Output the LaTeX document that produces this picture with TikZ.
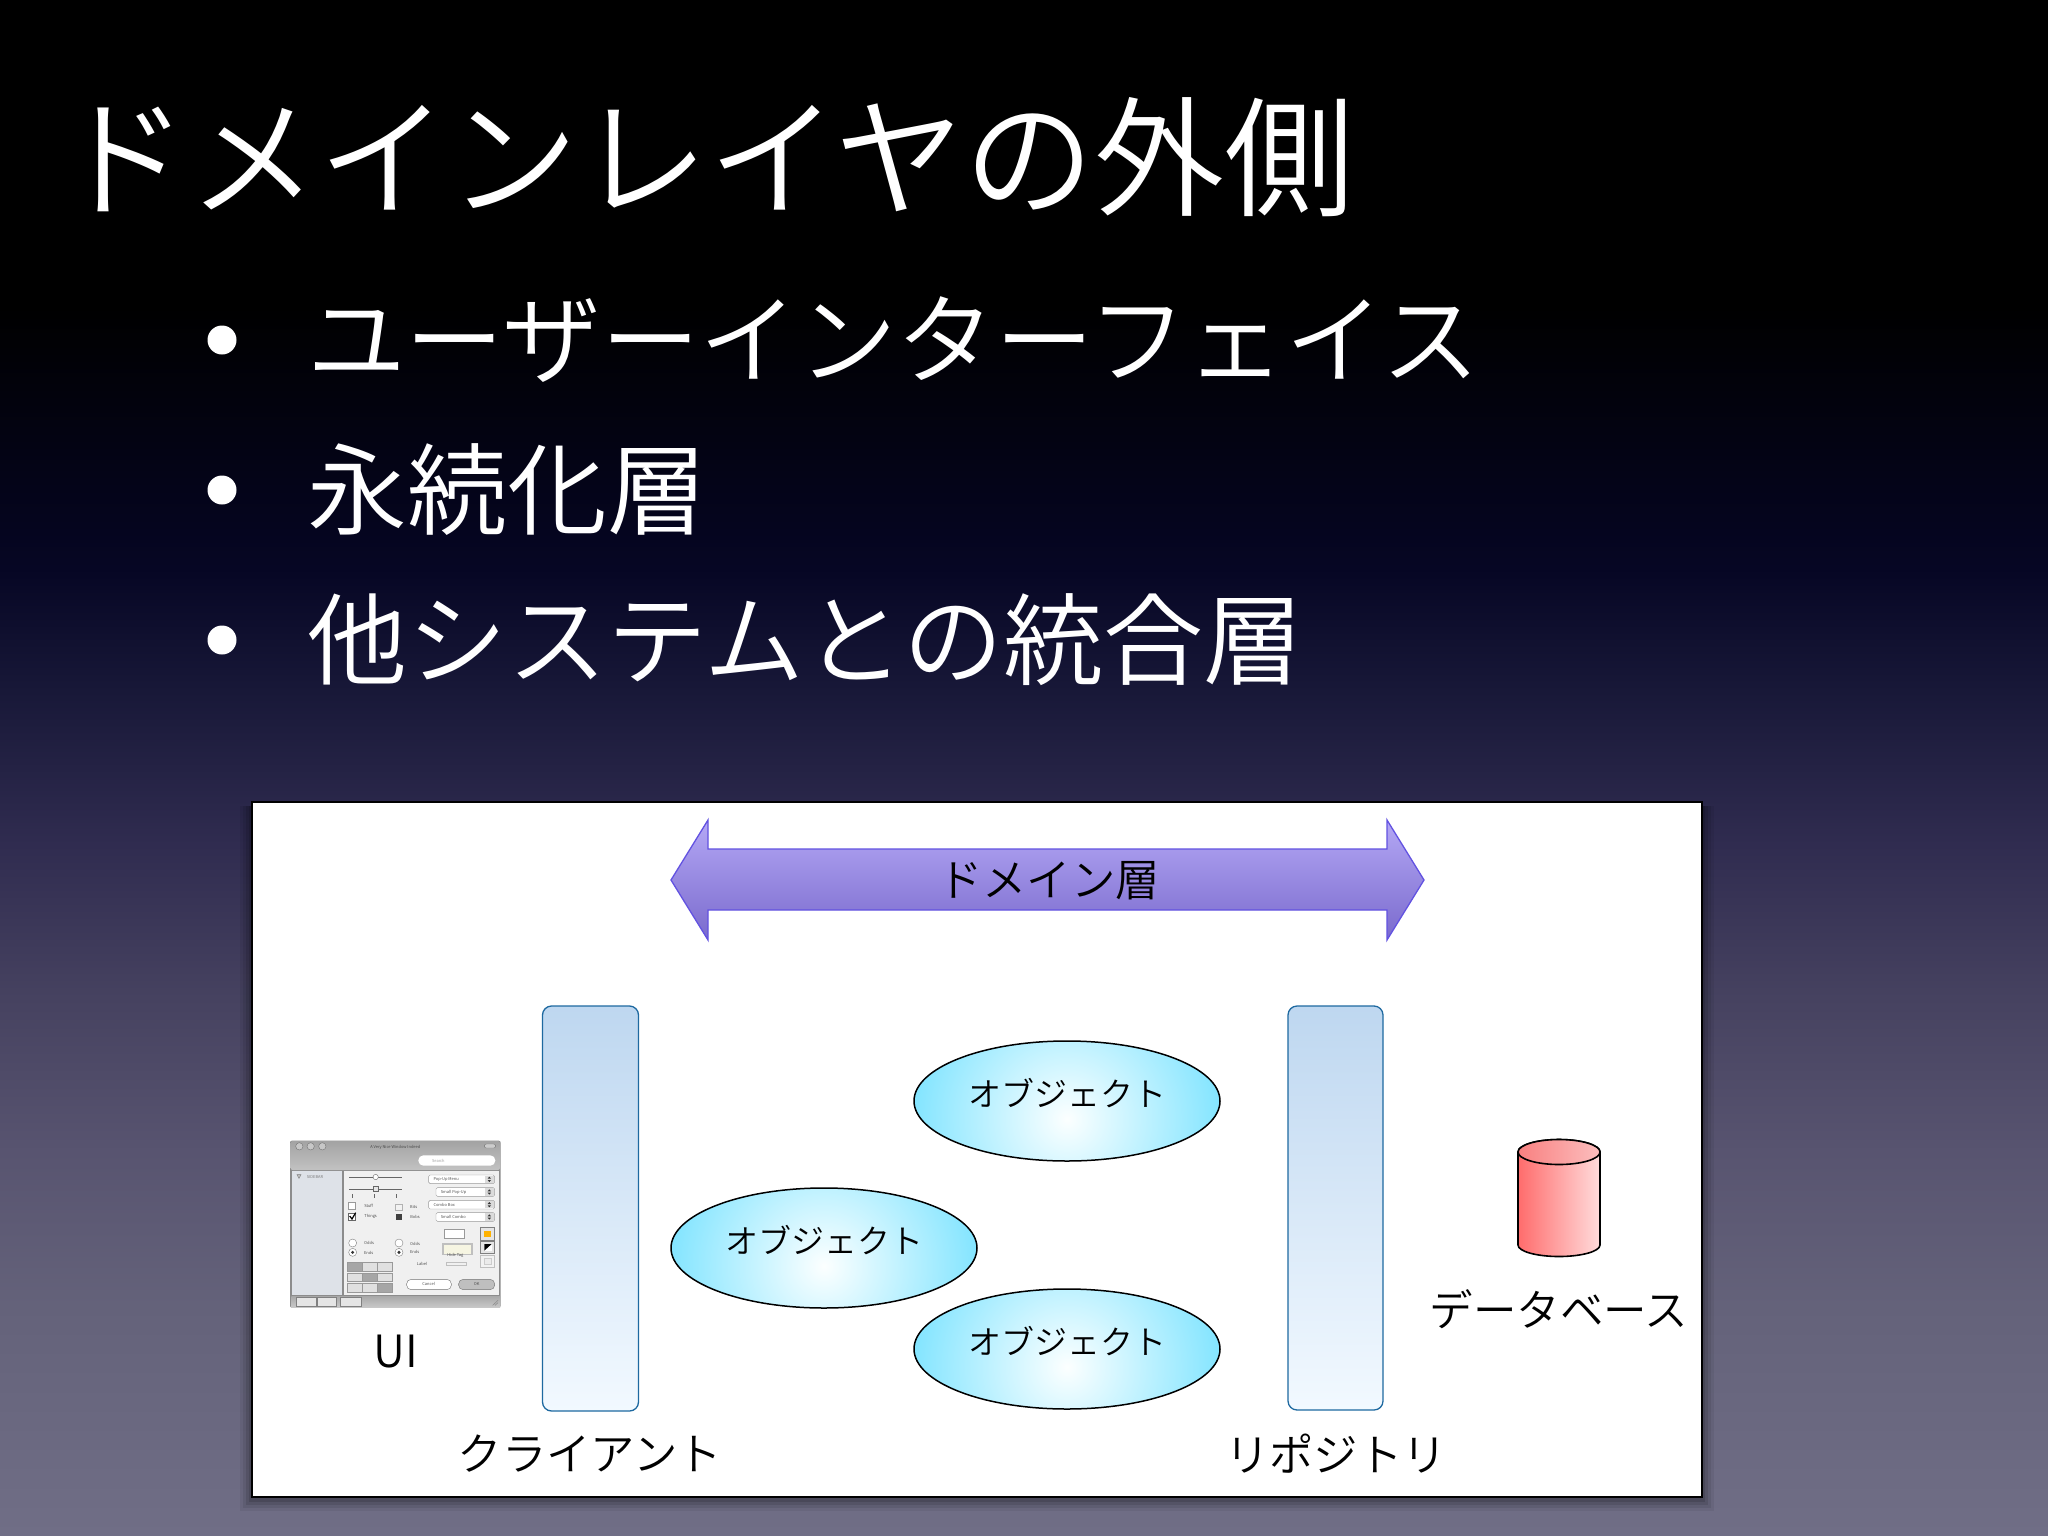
\documentclass[tikz,border=0pt]{standalone}
\usepackage{fontspec}
\setmainfont{Noto Sans CJK JP DemiLight}
\usetikzlibrary{shapes.geometric}
\definecolor{bgA}{RGB}{0,0,0}
\definecolor{bgB}{RGB}{6,6,36}
\definecolor{bgC}{RGB}{24,24,56}
\definecolor{bgD}{RGB}{48,44,80}
\definecolor{bgE}{RGB}{70,66,96}
\definecolor{bgF}{RGB}{88,84,112}
\definecolor{bgG}{RGB}{100,98,122}
\definecolor{bgH}{RGB}{112,110,134}
\pgfdeclareverticalshading{slidebg}{100bp}{
 color(0bp)=(bgH); color(25bp)=(bgH); color(32.5bp)=(bgG); color(37.5bp)=(bgF); color(42.5bp)=(bgE);
 color(47.5bp)=(bgD); color(52.5bp)=(bgC); color(56.5bp)=(bgB); color(65bp)=(bgA); color(100bp)=(bgA)}
\definecolor{elC}{RGB}{252,255,255}
\definecolor{elE}{RGB}{128,228,255}
\definecolor{arrowtop}{RGB}{180,168,245}
\definecolor{arrowbot}{RGB}{122,106,205}
\definecolor{arrowline}{RGB}{98,82,225}
\definecolor{coltop}{RGB}{190,215,240}
\definecolor{colbot}{RGB}{242,249,255}
\definecolor{colline}{RGB}{30,105,160}
\definecolor{cylL}{RGB}{255,108,108}
\definecolor{cylR}{RGB}{255,220,220}
\definecolor{cytL}{RGB}{248,128,128}
\definecolor{cytR}{RGB}{252,190,190}
\definecolor{uiS}{RGB}{222,226,232}
\tikzset{
 heading/.style={anchor=west,text=white,font=\fontsize{130}{130}\selectfont,inner sep=0pt},
 bulletitem/.style={anchor=west,text=white,font=\fontsize{100}{100}\selectfont,inner sep=0pt},
 bulletdot/.style={circle,fill=white,minimum size=29pt,inner sep=0pt},
 lbl/.style={text=black,font=\fontsize{44.4}{44.4}\selectfont,inner sep=0pt},
 column/.style={draw=colline,line width=1.3pt,rounded corners=9pt,top color=coltop,bottom color=colbot,inner sep=0pt},
 obj/.style={ellipse,draw=black,line width=1.5pt,minimum width=306pt,minimum height=120pt,inner sep=0pt,
  path picture={\shade[inner color=elC,outer color=elE] ([yshift=-18pt]path picture bounding box.center) circle[radius=158pt];}},
 objtxt/.style={text=black,font=\fontsize{33}{33}\selectfont,inner sep=0pt},
 uit/.style={text=black!75,font=\fontsize{4}{4}\selectfont,inner sep=0pt},
}
\begin{document}
\begin{tikzpicture}[x=1pt,y=-1pt]
\useasboundingbox (0,0) rectangle (2048,1536);
\shade[shading=slidebg] (0,0) rectangle (2048,1536);
\node[heading] (title) at (58,157) {ドメインレイヤの外側};
\node[bulletdot] (d1) at (222,340) {};
\node[bulletdot] (d2) at (222,490) {};
\node[bulletdot] (d3) at (222,640) {};
\node[bulletitem,font=\fontsize{98.6}{98.6}\selectfont] (b1) at (307,340) {ユーザーインターフェイス};
\node[bulletitem] (b2) at (307,490) {永続化層};
\node[bulletitem] (b3) at (307,640) {他システムとの統合層};
% panel shadow
\foreach \o/\a in {12/.06,9/.08,6/.1,3/.12}{
 \fill[black,opacity=\a] (252-\o,802+4) rectangle (1702+\o,1497+\o+2);
}
\draw[black,line width=2pt,fill=white] (252,802) rectangle (1702,1497);
% double arrow
\draw[arrowline,line width=1.3pt,top color=arrowtop,bottom color=arrowbot]
 (671,880) -- (708,820) -- (708,849) -- (1387,849) -- (1387,820) -- (1424,880)
 -- (1387,940) -- (1387,910) -- (708,910) -- (708,940) -- cycle;
\node[lbl] (dom) at (1049,881) {ドメイン層};
% columns
\node[column,minimum width=96pt,minimum height=405pt] (client) at (590.5,1208.5) {};
\node[column,minimum width=95pt,minimum height=404pt] (repo) at (1335.5,1208) {};
\node[lbl] (clientl) at (590,1454) {クライアント};
\node[lbl] (repol) at (1336,1454) {リポジトリ};
% objects
\node[obj] (o1) at (1067,1101) {};
\node[obj] (o2) at (824,1248) {};
\node[obj] (o3) at (1067,1349) {};
\node[objtxt] (t1) at (1067,1093) {オブジェクト};
\node[objtxt] (t2) at (824,1240) {オブジェクト};
\node[objtxt] (t3) at (1067,1341) {オブジェクト};
% database
\draw[black,line width=1.6pt,left color=cylL,right color=cylR]
 (1518,1152) -- (1518,1245) arc[start angle=180,end angle=360,x radius=41,y radius=-11.5] -- (1600,1152)
 arc[start angle=0,end angle=180,x radius=41,y radius=-12.5] -- cycle;
\draw[black,line width=1.6pt,left color=cytL,right color=cytR]
 (1559,1152) ellipse[x radius=41,y radius=12.5];
\node[lbl,font=\fontsize{43.5}{43.5}\selectfont] (dbl) at (1559,1309) {データベース};
\node[lbl] (uil) at (396,1352) {UI};
% UI window
\begin{scope}[shift={(270,1120)},x=.33333pt,y=-.33333pt]
\fill[black!45,rounded corners=2pt] (60,62) rectangle (692,563);
\shade[top color=black!36,bottom color=black!24,rounded corners=2pt] (62,63) rectangle (690,150);
\fill[uiS] (66,153) rectangle (216,524);
\fill[white!94!black] (221,153) rectangle (688,524);
\shade[top color=black!34,bottom color=black!22] (64,528) rectangle (690,561);
\foreach \x in {88,122,157}{\draw[black!55,fill=black!22] (\x,79) circle[radius=11];}
\draw[black!50,fill=white!80!black,rounded corners=2pt] (643,72) rectangle (677,84);
\fill[white,rounded corners=5pt] (445,106) rectangle (676,137);
\node[uit] (uititle) at (376,81) {A Very Nice Window Indeed};
\node[uit,text=black!40] (uisearch) at (505,122) {Search};
\node[uit,text=black!55] (uiside) at (135,170) {SIDEBAR};
\draw[black!50,fill=black!25] (81,164) -- (93,164) -- (87,175) -- cycle;
% sliders
\draw[black!60,line width=1pt] (238,171) -- (397,171);
\draw[black!60,line width=1pt] (238,207) -- (397,207);
\draw[black!60,fill=white] (317,171) circle[radius=8];
\draw[black!60,fill=black!10] (309,200) rectangle (325,215);
\foreach \x in {248,314,380}{\draw[black!60,line width=.8pt] (\x,223) -- (\x,234);}
% popups
\foreach \yy/\xa/\n/\s in {178/476/pm/Pop-Up Menu,216/498/pn/Small Pop-Up,254/476/po/Combo Box,291/498/pp/Small Combo}{
 \draw[black!40,fill=white,rounded corners=1.5pt] (\xa,\yy-13) rectangle (674,\yy+13);
 \fill[black!14] (645,\yy-11) rectangle (672,\yy+11);
 \fill[black!80] (653,\yy-2) -- (663,\yy-2) -- (658,\yy-8) -- cycle;
 \fill[black!80] (653,\yy+2) -- (663,\yy+2) -- (658,\yy+8) -- cycle;
 \node[uit,anchor=west] (\n) at (\xa+14,\yy) {\s};
}
% checks
\draw[black!40,fill=white] (235,247) rectangle (257,269);
\draw[black!60,fill=white] (235,279) rectangle (257,301);
\draw[black,line width=1.2pt] (239,288) -- (246,297) -- (257,278);
\draw[black!30,fill=black!5] (376,252) rectangle (398,270);
\fill[black!75] (378,282) rectangle (396,299);
\node[uit] (c1) at (296,259) {Stuff};
\node[uit] (c2) at (302,290) {Things};
\node[uit] (c3) at (431,261) {Bits};
\node[uit] (c4) at (435,290) {Bobs};
% radios
\foreach \x in {248,387}{
 \draw[black!50,fill=white] (\x,369) circle[radius=12];
 \draw[black!50,fill=white] (\x,397) circle[radius=12];
 \fill[black!80] (\x,397) circle[radius=5];
}
\node[uit] (r1) at (297,370) {Odds};
\node[uit] (r2) at (296,399) {Ends};
\node[uit] (r3) at (435,371) {Odds};
\node[uit] (r4) at (434,397) {Ends};
% segmented
\foreach \yy/\sel in {440/0,472/1,504/2}{
 \foreach \i in {0,1,2}{
  \pgfmathsetmacro\xx{232+44.5*\i}
  \ifnum\i=\sel\def\cc{black!35}\else\def\cc{black!12}\fi
  \draw[black!40,fill=\cc] (\xx,\yy-13) rectangle (\xx+44.5,\yy+13);
 }
}
\node[uit] (lab) at (456,433) {Label};
\draw[black!40,fill=white] (523,327) rectangle (584,356);
\fill[black!25] (516,369) rectangle (608,406);
\fill[white!92!olive] (521,374) rectangle (603,401);
\node[uit] (hide) at (556,406) {Hide Tag};
\draw[black!25,line width=.4pt] (528,428) -- (590,428) -- (590,435) -- (528,435) -- cycle;
% wells
\draw[black!50,fill=black!10] (632,323) rectangle (673,361);
\fill[orange!60!yellow] (641,333) rectangle (664,351);
\draw[black!50,fill=black!10] (632,363) rectangle (673,400);
\fill[white] (643,372) rectangle (665,392);
\fill[black] (643,392) -- (665,372) -- (643,372) -- cycle;
\draw[black!25,fill=black!5] (632,405) rectangle (673,442);
\draw[black!20,fill=black!8] (643,414) rectangle (663,434);
% buttons
\draw[black!55,fill=white,rounded corners=4.5pt] (410,478) rectangle (544,509);
\draw[black!55,fill=black!25,rounded corners=4.5pt] (566,478) rectangle (674,509);
\node[uit] (cancel) at (476,493) {Cancel};
\node[uit] (ok) at (620,493) {OK};
% bottom tabs
\foreach \a/\b in {79/139,143/200,211/274}{
 \draw[black!50,fill=black!10] (\a,532) rectangle (\b,558);
}
\draw[black!45,line width=.6pt] (668,556) -- (684,541) (675,556) -- (684,548);
\end{scope}
\end{tikzpicture}
\end{document}
